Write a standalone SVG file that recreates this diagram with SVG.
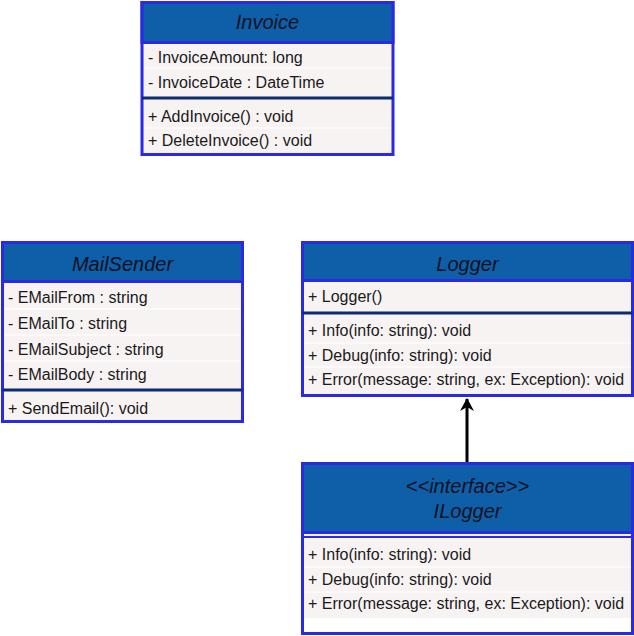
<svg xmlns="http://www.w3.org/2000/svg" width="634" height="636" viewBox="0 0 634 636">
<style>
.box{fill:#f7f3f3;stroke:#2a2ae6;stroke-width:3}
.hdr{fill:#0f5fa8;stroke:#2a2ae6;stroke-width:3}
.div{stroke:#0b2c6e;stroke-width:3}
.sep{stroke:#ffffff;stroke-width:1}
.t{font-family:"Liberation Sans",Arial,sans-serif;font-size:16px;fill:#1a1a1a}
.h{font-family:"Liberation Sans",Arial,sans-serif;font-size:20px;font-style:italic;fill:#111122;text-anchor:middle}
</style>
<defs>
<marker id="arr" markerWidth="14" markerHeight="14" refX="12" refY="7" orient="auto" markerUnits="userSpaceOnUse">
<path d="M0,0 L13,7 L0,14 L4,7 Z" fill="#000"/>
</marker>
</defs>
<rect width="634" height="636" fill="#ffffff"/>
<g id="connectors">
<line x1="467" y1="462" x2="467" y2="399" stroke="#000" stroke-width="3" marker-end="url(#arr)"/>
</g>
<g id="Invoice">
<rect class="box" x="142" y="2.5" width="251" height="152"/>
<rect class="hdr" x="142" y="2.5" width="251" height="40"/>
<text class="h" x="267.5" y="29">Invoice</text>
<line class="sep" x1="144" y1="68" x2="391" y2="68"/>
<text class="t" x="148" y="63">- InvoiceAmount: long</text>
<text class="t" x="148" y="88">- InvoiceDate : DateTime</text>
<line class="div" x1="142" y1="98" x2="393" y2="98"/>
<line class="sep" x1="144" y1="128" x2="391" y2="128"/>
<text class="t" x="148" y="122">+ AddInvoice() : void</text>
<text class="t" x="148" y="146">+ DeleteInvoice() : void</text>
</g>
<g id="MailSender">
<rect class="box" x="2.5" y="242.5" width="240" height="179"/>
<rect class="hdr" x="2.5" y="242.5" width="240" height="39"/>
<text class="h" x="122.5" y="271">MailSender</text>
<line class="sep" x1="4" y1="309" x2="241" y2="309"/>
<line class="sep" x1="4" y1="335" x2="241" y2="335"/>
<line class="sep" x1="4" y1="361" x2="241" y2="361"/>
<text class="t" x="8" y="303">- EMailFrom : string</text>
<text class="t" x="8" y="329">- EMailTo : string</text>
<text class="t" x="8" y="355">- EMailSubject : string</text>
<text class="t" x="8" y="380">- EMailBody : string</text>
<line class="div" x1="2.5" y1="390" x2="242.5" y2="390"/>
<text class="t" x="8" y="414">+ SendEmail(): void</text>
</g>
<g id="Logger">
<rect class="box" x="302.5" y="242.5" width="330" height="153"/>
<rect class="hdr" x="302.5" y="242.5" width="330" height="38"/>
<text class="h" x="467.5" y="271">Logger</text>
<text class="t" x="308" y="302">+ Logger()</text>
<line class="div" x1="302.5" y1="313" x2="632.5" y2="313"/>
<line class="sep" x1="304" y1="343" x2="631" y2="343"/>
<line class="sep" x1="304" y1="367" x2="631" y2="367"/>
<text class="t" x="308" y="336">+ Info(info: string): void</text>
<text class="t" x="308" y="361">+ Debug(info: string): void</text>
<text class="t" x="308" y="385">+ Error(message: string, ex: Exception): void</text>
</g>
<g id="ILogger">
<rect class="box" x="302.5" y="463.5" width="330" height="170"/>
<rect class="hdr" x="302.5" y="463.5" width="330" height="69"/>
<text class="h" x="467.5" y="493">&lt;&lt;interface&gt;&gt;</text>
<text class="h" x="467.5" y="518">ILogger</text>
<line x1="302.5" y1="537" x2="632.5" y2="537" stroke="#2a2ae6" stroke-width="2"/>
<line class="sep" x1="304" y1="567" x2="631" y2="567"/>
<line class="sep" x1="304" y1="592" x2="631" y2="592"/>
<text class="t" x="308" y="560">+ Info(info: string): void</text>
<text class="t" x="308" y="585">+ Debug(info: string): void</text>
<text class="t" x="308" y="609">+ Error(message: string, ex: Exception): void</text>
<rect x="304" y="618" width="327" height="14" fill="#ffffff"/>
</g>
</svg>
